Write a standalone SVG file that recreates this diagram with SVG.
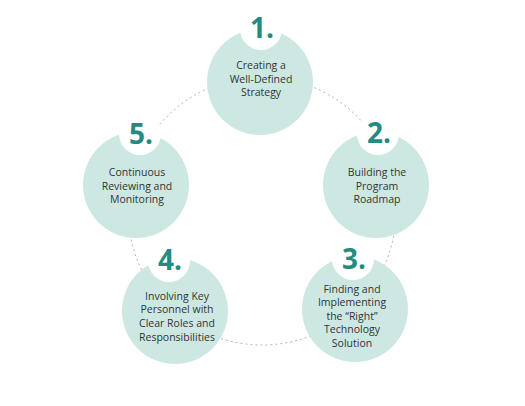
<svg xmlns="http://www.w3.org/2000/svg" width="525" height="406" viewBox="0 0 525 406">
<defs>
<style>
.ring{fill:none;stroke:#9a9a9a;stroke-width:0.8;stroke-dasharray:2 3}
.big{fill:#cde8e3}
.badge{fill:#ffffff}
.num{font-family:"Open Sans","Liberation Sans",sans-serif;font-weight:700;font-size:28px;fill:#238c7f;text-anchor:middle}
.lbl{font-family:"Open Sans","Liberation Sans",sans-serif;font-size:10.5px;fill:#333333;text-anchor:middle}
</style>
</defs>
<rect width="525" height="406" fill="#ffffff"/>
<g id="connectors">
<circle class="ring" cx="262" cy="211" r="134"/>
</g>
<g id="node1">
<circle class="big" cx="260" cy="82" r="53"/>
<circle class="badge" cx="261" cy="29" r="21"/>
<text class="num" x="262" y="38">1.</text>
<text class="lbl" x="261" y="69">Creating a</text>
<text class="lbl" x="261" y="82.5">Well-Defined</text>
<text class="lbl" x="261" y="96">Strategy</text>
</g>
<g id="node2">
<circle class="big" cx="376" cy="185" r="53"/>
<circle class="badge" cx="378" cy="134" r="21"/>
<text class="num" x="379" y="143">2.</text>
<text class="lbl" x="377" y="176">Building the</text>
<text class="lbl" x="377" y="190">Program</text>
<text class="lbl" x="377" y="203">Roadmap</text>
</g>
<g id="node3">
<circle class="big" cx="355" cy="309" r="53"/>
<circle class="badge" cx="353" cy="259" r="21"/>
<text class="num" x="354" y="269">3.</text>
<text class="lbl" x="352" y="293">Finding and</text>
<text class="lbl" x="352" y="306">Implementing</text>
<text class="lbl" x="352" y="320">the “Right”</text>
<text class="lbl" x="352" y="333">Technology</text>
<text class="lbl" x="352" y="347">Solution</text>
</g>
<g id="node4">
<circle class="big" cx="175" cy="311" r="53"/>
<circle class="badge" cx="169" cy="261" r="21"/>
<text class="num" x="170" y="270">4.</text>
<text class="lbl" x="177" y="300">Involving Key</text>
<text class="lbl" x="177" y="313">Personnel with</text>
<text class="lbl" x="177" y="327">Clear Roles and</text>
<text class="lbl" x="177" y="341">Responsibilities</text>
</g>
<g id="node5">
<circle class="big" cx="136" cy="185" r="53"/>
<circle class="badge" cx="140" cy="134" r="21"/>
<text class="num" x="141" y="144">5.</text>
<text class="lbl" x="137" y="176">Continuous</text>
<text class="lbl" x="137" y="190">Reviewing and</text>
<text class="lbl" x="137" y="203">Monitoring</text>
</g>
</svg>
